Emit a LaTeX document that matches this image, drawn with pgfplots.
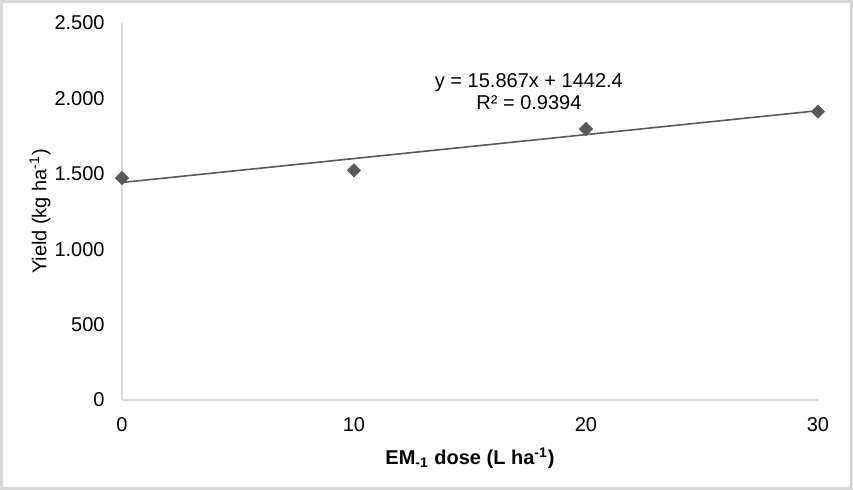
\documentclass[border=0pt]{standalone}
\usepackage{fontspec}
\setmainfont{Liberation Sans}
\usepackage{pgfplots}
\pgfplotsset{compat=1.18}

\definecolor{markgray}{RGB}{89,89,89}
\definecolor{axisgray}{RGB}{217,217,217}
\definecolor{framegray}{RGB}{215,215,215}

\begin{document}
\begin{tikzpicture}
	% outer frame (1 px = 0.5 pt)
	\draw[framegray, line width=1.5pt] (-60.25pt,-44.25pt) rectangle (364.75pt,199.25pt);
	\begin{axis}[
		at={(0,0)}, anchor=south west,
		scale only axis,
		width=348pt, height=188.5pt,
		xmin=0, xmax=30, ymin=0, ymax=2500,
		xtick={0,10,20,30},
		ytick={0,500,1000,1500,2000,2500},
		axis x line*=bottom, axis y line*=left,
		axis line style={-, axisgray, line width=0.6pt},
		major tick length=0pt,
		font=\fontsize{10}{11}\selectfont,
		/pgf/number format/assume math mode=true,
		/pgf/number format/1000 sep={.},
		xticklabel style={anchor=center, inner sep=0pt, yshift=-12.5pt},
		yticklabel style={anchor=east, inner sep=0pt, xshift=-8.5pt},
		ylabel={Yield (kg ha\textsuperscript{-1})},
		ylabel style={at={(axis description cs:-0.1178,0.5)}, anchor=center},
		xlabel={\bfseries EM\textsubscript{-1} dose (L ha\textsuperscript{-1})},
		xlabel style={at={(axis description cs:0.5,-0.1538)}, anchor=center},
		clip=false,
	]
		% trendline y = 15.867x + 1442.4
		\addplot[markgray, line width=0.8pt, no marks] coordinates {(0,1442.4) (30,1918.41)};
		% observed yields
		\addplot[only marks, mark=square*, mark size=2.3pt,
			mark options={fill=markgray, draw=markgray, rotate=45}]
			coordinates {(0,1472) (10,1523) (20,1797) (30,1912)};
		\node[align=center, font=\fontsize{10}{11}\selectfont]
			at (axis cs:17.54,2044) {y = 15.867x + 1442.4\\R² = 0.9394};
	\end{axis}
\end{tikzpicture}
\end{document}
